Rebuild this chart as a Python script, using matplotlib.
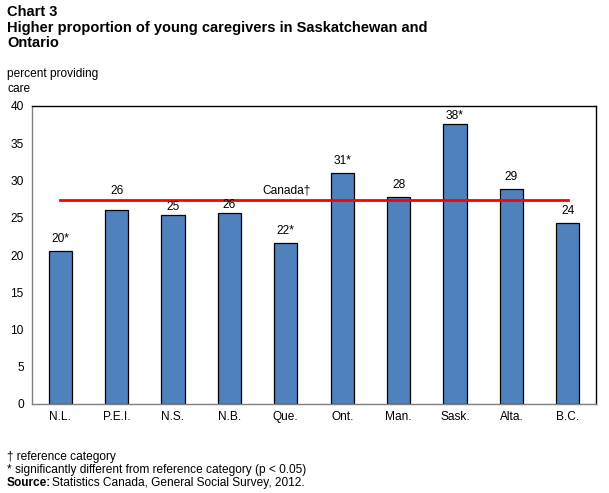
import matplotlib.pyplot as plt

plt.rcParams['font.family'] = ['Liberation Sans', 'DejaVu Sans']

provinces = ['N.L.', 'P.E.I.', 'N.S.', 'N.B.', 'Que.', 'Ont.', 'Man.', 'Sask.', 'Alta.', 'B.C.']
values = [20.5, 26.0, 25.4, 25.6, 21.6, 31.0, 27.8, 37.6, 28.9, 24.3]
labels = ['20*', '26', '25', '26', '22*', '31*', '28', '38*', '29', '24']
canada = 27.4

fs = 8.6

fig = plt.figure(figsize=(6.09, 4.93), dpi=100)
ax = fig.add_axes([32 / 609, 89 / 493, 564 / 609, 298 / 493])

x = range(len(provinces))
ax.bar(x, values, width=0.41, color='#4F81BD', edgecolor='black', linewidth=0.9, zorder=2)
ax.plot([0, len(provinces) - 1], [canada, canada], color='#FF0000', linewidth=2, zorder=3)
ax.text(4.02, 28.6, 'Canada\u2020', ha='center', va='center', fontsize=fs)

# labels above bars; a few are nudged around the Canada line like in the original
nudge = {1: 28.6, 2: 26.5, 3: 26.7, 7: 38.7}
for i, (v, lab) in enumerate(zip(values, labels)):
    y = nudge.get(i, v + 1.6)
    ax.text(i, y, lab, ha='center', va='center', fontsize=fs)

ax.set_xlim(-0.5, len(provinces) - 0.5)
ax.set_ylim(0, 40)
ax.set_yticks(range(0, 41, 5))
ax.set_xticks(list(x))
ax.set_xticklabels(provinces)
ax.tick_params(length=0, labelsize=fs, pad=5)
ax.tick_params(axis='y', pad=6)
for s in ['left', 'bottom']:
    ax.spines[s].set_color('#808080')
for s in ['top', 'right']:
    ax.spines[s].set_color('black')
for s in ax.spines.values():
    s.set_linewidth(1)

fig.text(7 / 609, 1 - 5 / 493, 'Chart 3\nHigher proportion of young caregivers in Saskatchewan and\nOntario',
         ha='left', va='top', fontsize=10.5, fontweight='bold', linespacing=1.15)
fig.text(7 / 609, 1 - 68 / 493, 'percent providing\ncare', ha='left', va='top', fontsize=fs, linespacing=1.3)

fig.text(7 / 609, 1 - 451 / 493, '\u2020 reference category\n* significantly different from reference category (p < 0.05)',
         ha='left', va='top', fontsize=fs, linespacing=1.15)
fig.text(7 / 609, 1 - 477 / 493, 'Source:', ha='left', va='top', fontsize=fs, fontweight='bold')
fig.text(52 / 609, 1 - 477 / 493, 'Statistics Canada, General Social Survey, 2012.', ha='left', va='top', fontsize=fs)

plt.savefig('out.png', dpi=100)
